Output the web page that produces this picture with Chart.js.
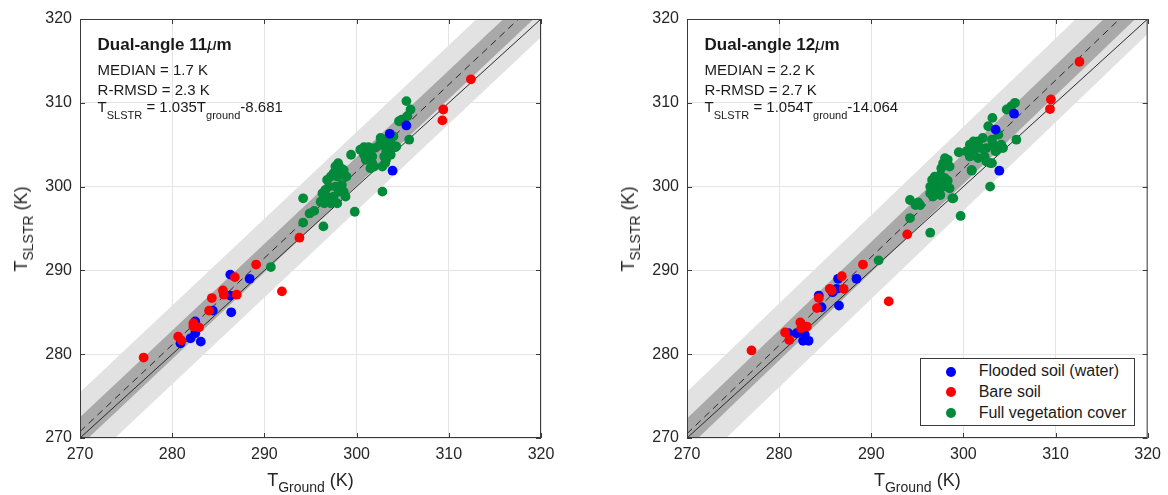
<!DOCTYPE html>
<html><head><meta charset="utf-8">
<script src="https://cdn.jsdelivr.net/npm/chart.js@4.4.0/dist/chart.umd.min.js"></script>
<style>
html,body{margin:0;padding:0;background:#fff;}
#wrap{position:relative;width:1168px;height:495px;overflow:hidden;font-family:"Liberation Sans",Arial,sans-serif;color:#1a1a1a;}
canvas{position:absolute;top:0;}
.t{position:absolute;white-space:nowrap;line-height:1;}
.sub{position:relative;}
#legend{position:absolute;background:#fff;border:1px solid #3a3a3a;box-sizing:border-box;}
.lrow{position:absolute;left:0;white-space:nowrap;font-size:16px;line-height:1;}
.dot{position:absolute;width:10px;height:10px;border-radius:50%;}
</style></head><body>
<div id="wrap">
<canvas id="c1" width="580" height="495" style="left:0px"></canvas>
<canvas id="c2" width="588" height="495" style="left:580px"></canvas>
</div>
<script>
// ---------- data ----------
const axisTicks = [270, 280, 290, 300, 310, 320];
const seriesNames = ["Flooded soil (water)", "Bare soil", "Full vegetation cover"];
const seriesColors = ["#0000ff", "#ff0000", "#008a3a"];

// Dual-angle 11 um
const fit11 = [1.035, -8.681];          // slope, intercept
const bands11 = [1.7, 4.7];             // half widths of dark / light band (K)
const stats11 = ["1.7", "2.3"];         // MEDIAN, R-RMSD
const flooded11X = [280.9, 282.0, 282.5, 282.5, 283.1, 284.4, 286.3, 286.4, 286.3, 288.4, 303.6, 303.9, 305.4];
const flooded11Y = [281.3, 281.9, 282.5, 283.9, 281.5, 285.2, 287.0, 285.0, 289.5, 289.0, 306.3, 301.9, 307.3];
const bare11X = [276.9, 280.65, 281.0, 282.3, 282.3, 282.9, 284.0, 284.3, 285.5, 285.6, 287.0, 286.8, 289.1, 291.9, 293.8, 309.4, 309.3, 312.4];
const bare11Y = [279.6, 282.1, 281.65, 283.7, 283.3, 283.2, 285.2, 286.7, 287.6, 287.1, 287.1, 289.2, 290.7, 287.5, 293.9, 309.2, 307.9, 312.8];
const veg11X = [290.7, 294.2, 294.2, 294.9, 295.4, 296.4, 299.8, 302.8,
  298.0, 298.3, 297.7, 297.5, 297.9, 298.4, 297.2, 296.8, 297.0, 296.6, 298.4, 298.6, 298.1, 297.7, 296.3, 296.8, 297.5, 297.2, 297.9, 298.8, 296.5, 296.1, 298.9, 298.6,
  299.4, 300.4, 300.8, 301.3, 301.9, 301.2, 301.7, 301.0, 300.8, 301.9, 301.5, 302.8, 303.0, 303.2, 303.1, 301.7, 303.7, 302.6, 303.0, 302.5, 303.4, 303.8, 303.2, 304.0, 304.2, 304.3, 305.7,
  304.6, 304.9, 305.5, 305.85, 305.4];
const veg11Y = [290.4, 298.6, 295.7, 296.8, 297.1, 295.25, 297.0, 299.4,
  302.8, 302.2, 302.4, 301.6, 301.2, 301.4, 301.2, 300.8, 300.0, 299.6, 300.2, 299.4, 299.4, 300.0, 299.2, 298.8, 298.8, 298.0, 298.0, 298.8, 298.0, 298.2, 301.2, 302.0,
  303.8, 304.4, 304.7, 304.7, 304.6, 303.8, 303.6, 303.2, 303.8, 302.4, 302.2, 302.4, 303.6, 303.2, 302.8, 302.8, 303.8, 305.8, 305.6, 305.0, 305.3, 305.0, 304.4, 306.0, 304.7, 304.8, 305.6,
  307.8, 308.0, 308.4, 309.2, 310.2];

// Dual-angle 12 um
const fit12 = [1.054, -14.064];
const bands12 = [1.8, 5.0];
const stats12 = ["2.2", "2.7"];
const flooded12X = [281.0, 281.9, 282.6, 283.2, 282.8, 284.6, 284.3, 285.8, 286.25, 286.5, 286.4, 288.4, 303.5, 303.9, 305.5];
const flooded12Y = [282.5, 282.5, 281.6, 281.6, 282.3, 285.6, 287.0, 287.4, 287.8, 285.8, 289.0, 289.0, 306.8, 301.9, 308.7];
const bare12X = [277.0, 280.65, 281.1, 282.3, 282.4, 283.0, 284.1, 284.3, 285.5, 285.7, 286.8, 287.0, 289.1, 291.9, 293.9, 309.4, 309.5, 312.6];
const bare12Y = [280.45, 282.6, 281.7, 283.8, 283.1, 283.3, 285.5, 286.7, 287.8, 287.6, 289.3, 287.8, 290.7, 286.3, 294.3, 309.25, 310.4, 314.9];
const veg12X = [290.8, 294.2, 294.8, 295.3, 295.1, 294.2, 296.4, 299.7, 298.8, 302.9, 300.9, 302.9,
  296.4, 296.7, 297.5, 298.9, 297.3, 296.4, 296.9, 297.8, 298.5, 298.3, 298.0, 297.1, 296.6, 296.9, 297.5, 297.6, 298.5, 297.8, 298.0, 298.3,
  299.5, 300.3, 300.7, 301.6, 302.3, 302.5, 303.1, 300.9, 300.7, 301.1, 301.6, 302.1, 301.2, 301.9, 302.5, 303.2, 304.1, 304.3, 303.5, 303.1, 303.8, 305.75,
  302.7, 303.15, 304.7, 305.2, 305.6];
const veg12Y = [291.2, 298.4, 297.8, 297.8, 298.1, 296.25, 294.5, 296.5, 298.6, 300.0, 301.9, 302.8,
  299.2, 298.8, 299.0, 298.6, 299.4, 300.0, 300.0, 300.0, 299.8, 300.7, 301.0, 300.7, 300.8, 301.2, 301.4, 302.2, 302.4, 302.8, 303.4, 303.2,
  304.1, 304.2, 303.6, 303.4, 303.6, 303.0, 302.8, 302.0, 305.0, 305.4, 305.4, 305.8, 304.4, 304.6, 304.6, 305.0, 305.0, 304.6, 304.2, 305.6, 306.2, 305.6,
  307.2, 308.2, 309.2, 309.6, 310.0];

// ---------- helpers ----------
const FONT = '"Liberation Sans", Arial, sans-serif';
const pts = (xs, ys) => xs.map((x, i) => ({ x: x, y: ys[i] }));
const lo = axisTicks[0], hi = axisTicks[axisTicks.length - 1];
const fitLine = (fit, off) => [lo, hi].map(x => ({ x: x, y: fit[0] * x + fit[1] + off }));

const framePlugin = {
  id: 'frame',
  afterDatasetsDraw(chart) {
    const { ctx, chartArea: a, scales: { x, y } } = chart;
    ctx.save();
    ctx.strokeStyle = '#3a3a3a';
    ctx.lineWidth = 1;
    ctx.beginPath();
    axisTicks.forEach(v => {
      const px = Math.round(x.getPixelForValue(v)) + 0.5;
      ctx.moveTo(px, a.bottom); ctx.lineTo(px, a.bottom - 5);
      ctx.moveTo(px, a.top); ctx.lineTo(px, a.top + 5);
      const py = Math.round(y.getPixelForValue(v)) + 0.5;
      ctx.moveTo(a.left, py); ctx.lineTo(a.left + 5, py);
      ctx.moveTo(a.right, py); ctx.lineTo(a.right - 5, py);
    });
    ctx.stroke();
    ctx.strokeRect(a.left + 0.5, a.top + 0.5, a.right - a.left - 1, a.bottom - a.top - 1);
    ctx.restore();
  }
};

function makeChart(id, p) {
  const tickOpts = { font: { family: FONT, size: 16 }, color: '#262626', maxRotation: 0 };
  const gridOpts = { color: '#e4e4e4', lineWidth: 1, drawTicks: false };
  const lineBase = { type: 'line', pointRadius: 0, borderWidth: 0, tension: 0 };
  return new Chart(document.getElementById(id), {
    type: 'scatter',
    data: {
      datasets: [
        Object.assign({}, lineBase, { data: fitLine(p.fit, p.bands[1]), fill: 1, backgroundColor: '#e2e2e2', borderColor: 'rgba(0,0,0,0)', order: 10 }),
        Object.assign({}, lineBase, { data: fitLine(p.fit, -p.bands[1]), fill: false, borderColor: 'rgba(0,0,0,0)', order: 9 }),
        Object.assign({}, lineBase, { data: fitLine(p.fit, p.bands[0]), fill: 3, backgroundColor: '#a9a9a9', borderColor: 'rgba(0,0,0,0)', order: 8 }),
        Object.assign({}, lineBase, { data: fitLine(p.fit, -p.bands[0]), fill: false, borderColor: 'rgba(0,0,0,0)', order: 7 }),
        Object.assign({}, lineBase, { data: [{ x: lo, y: lo }, { x: hi, y: hi }], fill: false, borderColor: '#2a2a2a', borderWidth: 1, order: 5 }),
        Object.assign({}, lineBase, { data: fitLine(p.fit, 0), fill: false, borderColor: '#2a2a2a', borderWidth: 1, borderDash: [7, 5], order: 4 }),
        { label: seriesNames[2], data: pts(p.vegX, p.vegY), backgroundColor: seriesColors[2], borderWidth: 0, pointRadius: 4.9, order: 3 },
        { label: seriesNames[0], data: pts(p.floodX, p.floodY), backgroundColor: seriesColors[0], borderWidth: 0, pointRadius: 4.9, order: 2 },
        { label: seriesNames[1], data: pts(p.bareX, p.bareY), backgroundColor: seriesColors[1], borderWidth: 0, pointRadius: 4.9, order: 1 }
      ]
    },
    options: {
      responsive: false, animation: false, devicePixelRatio: 1,
      layout: { padding: { left: 0, top: 19, right: p.padR, bottom: 0 } },
      plugins: { legend: { display: false }, tooltip: { enabled: false } },
      scales: {
        x: {
          type: 'linear', min: lo, max: hi,
          afterBuildTicks: s => { s.ticks = axisTicks.map(v => ({ value: v })); },
          afterFit: s => { s.height = 57; },
          ticks: Object.assign({ padding: 7 }, tickOpts),
          grid: gridOpts, border: { display: false }
        },
        y: {
          type: 'linear', min: lo, max: hi,
          afterBuildTicks: s => { s.ticks = axisTicks.map(v => ({ value: v })); },
          afterFit: s => { s.width = p.yW; },
          ticks: Object.assign({ padding: 8 }, tickOpts),
          grid: gridOpts, border: { display: false }
        }
      }
    },
    plugins: [framePlugin]
  });
}

const wrap = document.getElementById('wrap');
function addText(html, x, baseline, size, opts) {
  opts = opts || {};
  const d = document.createElement('div');
  d.className = 't';
  d.style.fontSize = size + 'px';
  d.style.left = x + 'px';
  d.style.top = (baseline - 0.8465 * size) + 'px';
  if (opts.bold) d.style.fontWeight = 'bold';
  if (opts.center) d.style.transform = 'translateX(-50%)';
  if (opts.color) d.style.color = opts.color;
  d.innerHTML = html;
  wrap.appendChild(d);
  return d;
}
function addYTitle(cx, cy) {
  const d = document.createElement('div');
  d.className = 't';
  d.style.fontSize = '18px';
  d.style.left = cx + 'px';
  d.style.top = cy + 'px';
  d.style.color = '#262626';
  d.style.transform = 'translate(-50%,-50%) rotate(-90deg)';
  d.innerHTML = 'T<span class="sub" style="font-size:14px;top:6px">SLSTR</span> (K)';
  wrap.appendChild(d);
}

function decorate(chart, offX, p) {
  const a = chart.chartArea;
  const L = offX + a.left, R = offX + a.right;
  // x title
  addText('T<span class="sub" style="font-size:14px;top:6px">Ground</span> (K)', (L + R) / 2, 486, 18, { center: true, color: '#262626' });
  // y title
  addYTitle(L - 58.6, (a.top + a.bottom) / 2);
  // annotation
  const ax = L + 17.6;
  addText('Dual-angle ' + p.band + '<span style="font-weight:normal;font-style:italic">μ</span>m', ax, 50.7, 17, { bold: true });
  addText('MEDIAN = ' + p.stats[0] + ' K', ax, 75, 15);
  addText('R-RMSD = ' + p.stats[1] + ' K', ax, 94.3, 15);
  const sgn = p.fit[1] < 0 ? '-' : '+';
  addText('T<span class="sub" style="font-size:11px;top:7px">SLSTR</span> = ' + p.fit[0].toFixed(3) + 'T<span class="sub" style="font-size:11px;top:7px">ground</span>' + sgn + Math.abs(p.fit[1]).toFixed(3), ax, 111.7, 15);
}

const p1 = { fit: fit11, bands: bands11, stats: stats11, band: '11', floodX: flooded11X, floodY: flooded11Y, bareX: bare11X, bareY: bare11Y, vegX: veg11X, vegY: veg11Y, padR: 39, yW: 80 };
const p2 = { fit: fit12, bands: bands12, stats: stats12, band: '12', floodX: flooded12X, floodY: flooded12Y, bareX: bare12X, bareY: bare12Y, vegX: veg12X, vegY: veg12Y, padR: 20, yW: 107 };
const ch1 = makeChart('c1', p1);
const ch2 = makeChart('c2', p2);
decorate(ch1, 0, p1);
decorate(ch2, 580, p2);

// legend (right panel, inside plot area, bottom-right)
(function () {
  const a = ch2.chartArea;
  const lg = document.createElement('div');
  lg.id = 'legend';
  const w = 215, h = 68;
  const left = 580 + a.right - 13 - w, top = a.bottom - 12 - h;
  lg.style.left = left + 'px'; lg.style.top = top + 'px';
  lg.style.width = w + 'px'; lg.style.height = h + 'px';
  const order = [0, 1, 2];
  order.forEach((k, i) => {
    const cy = 12.7 + i * 20.7;
    const dot = document.createElement('div');
    dot.className = 'dot';
    dot.style.background = seriesColors[k];
    dot.style.left = (30 - 5) + 'px';
    dot.style.top = (cy - 5) + 'px';
    lg.appendChild(dot);
    const r = document.createElement('div');
    r.className = 'lrow';
    r.style.left = '58px';
    r.style.top = (cy - 8.5) + 'px';
    r.textContent = seriesNames[k];
    lg.appendChild(r);
  });
  wrap.appendChild(lg);
})();
</script>
</body></html>
